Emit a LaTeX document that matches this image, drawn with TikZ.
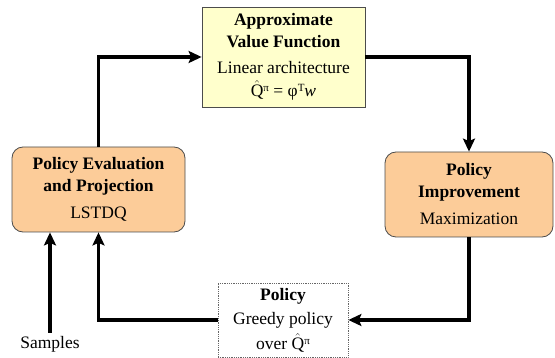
\documentclass[tikz,border=0pt]{standalone}
\usepackage{fontspec}
\setmainfont{Liberation Serif}
\usetikzlibrary{arrows.meta}
\definecolor{paleyellow}{RGB}{255,255,204}
\definecolor{peach}{RGB}{252,204,153}
\newcommand{\supsm}[1]{\raisebox{0.62ex}{\fontsize{11}{11}\selectfont #1}}
\newcommand{\qhat}{$\hat{\mbox{Q}}$\supsm{π}}
\begin{document}
\begin{tikzpicture}[x=1pt,y=-1pt,>={Stealth[length=13pt,width=12pt,inset=2.5pt]},font=\fontsize{17.5}{22}\selectfont,
    flow/.style={->,line width=3.8pt,line join=miter},
    valbox/.style={draw=black!70,line width=0.8pt,fill=paleyellow,align=center,minimum width=163pt,minimum height=100pt,inner sep=0pt},
    stagebox/.style={draw=black!70,line width=0.8pt,fill=peach,rounded corners=11pt,align=center,minimum height=85pt,inner sep=0pt},
    polbox/.style={draw=black!60,densely dotted,line width=0.8pt,align=center,minimum width=130pt,minimum height=74pt,inner sep=0pt}]
    \useasboundingbox (0,0) rectangle (555,358);
    \node[valbox] (approx) at (283.5,57) {\textbf{Approximate}\\\textbf{Value Function}\\[4pt]Linear architecture\\[1pt]\qhat\ = φ\supsm{T}\textit{w}};
    \node[stagebox,minimum width=173pt] (evalproj) at (98.5,189.5) {\textbf{Policy Evaluation}\\\textbf{and Projection}\\[5pt]LSTDQ};
    \node[stagebox,minimum width=168pt] (improve) at (469,194.5) {\textbf{Policy}\\\textbf{Improvement}\\[5pt]Maximization};
    \node[polbox] (policy) at (283,320) {\textbf{Policy}\\[2pt]Greedy policy\\[3pt]over \qhat};
    \node (samples) at (50,344) {Samples};
    \draw[flow] (evalproj.north) |- (approx.west);
    \draw[flow] (approx.east) -| (improve.north);
    \draw[flow] (improve.south) |- (policy.east);
    \draw[flow] (policy.west) -| (evalproj.south);
    \draw[flow] (samples) -- (samples |- evalproj.south);
\end{tikzpicture}
\end{document}
